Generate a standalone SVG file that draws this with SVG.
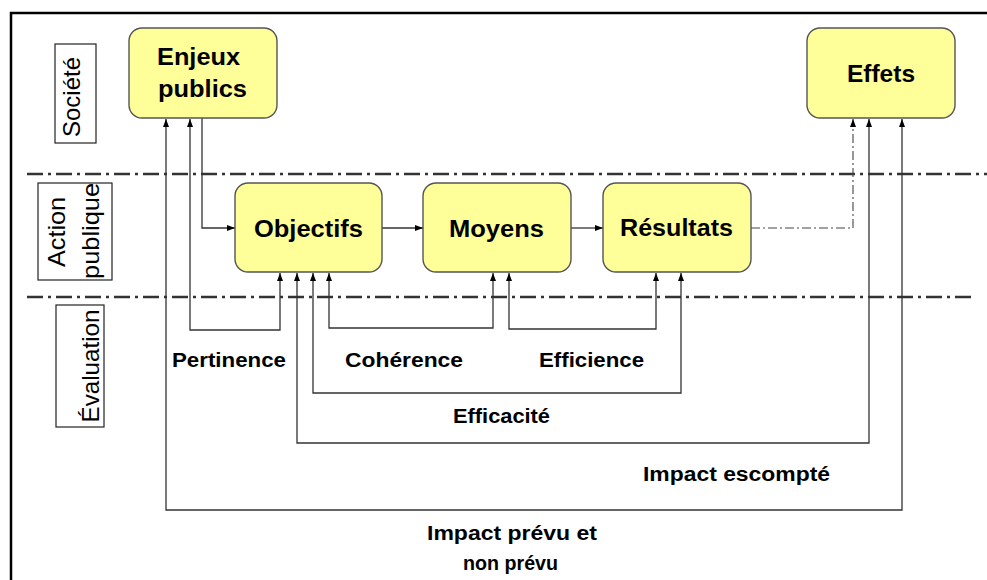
<svg xmlns="http://www.w3.org/2000/svg" width="987" height="580" viewBox="0 0 987 580">
<style>
  .box { fill: #FFFF99; stroke: #555; stroke-width: 1.4; }
  .lbl { fill: none; stroke: #222; stroke-width: 1.2; }
  .nt { font-family: "Liberation Sans", Arial, sans-serif; font-weight: bold; font-size: 23px; fill: #000; text-anchor: middle; }
  .st { font-family: "Liberation Sans", Arial, sans-serif; font-weight: bold; font-size: 20px; fill: #000; text-anchor: middle; }
  .rt { font-family: "Liberation Sans", Arial, sans-serif; font-size: 24px; fill: #000; text-anchor: middle; }
  .sep { fill: none; stroke: #333; stroke-width: 2.5; stroke-dasharray: 16 5 3 5; }
  .con { fill: none; stroke: #333; stroke-width: 1.3; }
  .dd { fill: none; stroke: #444; stroke-width: 1.1; stroke-dasharray: 9 3 2 3; }
</style>
<defs>
  <marker id="ah" viewBox="0 0 8 6" refX="8" refY="3" markerWidth="8" markerHeight="6" orient="auto-start-reverse" markerUnits="userSpaceOnUse">
    <path d="M0,0 L8,3 L0,6 z" fill="#000"/>
  </marker>
</defs>
<rect width="987" height="580" fill="#fff"/>
<g id="frame">
  <path d="M11,580 V13 H987" fill="none" stroke="#000" stroke-width="2.5"/>
</g>
<g id="separators">
  <line class="sep" x1="27" y1="174" x2="987" y2="174"/>
  <line class="sep" x1="27" y1="297" x2="972" y2="297"/>
</g>
<g id="lane-societe">
  <rect class="lbl" x="55" y="44" width="41" height="99"/>
  <text class="rt" transform="translate(80,97) rotate(-90)" textLength="80" lengthAdjust="spacingAndGlyphs">Société</text>
</g>
<g id="lane-action">
  <rect class="lbl" x="38" y="183" width="74" height="97"/>
  <text class="rt" transform="translate(65,232) rotate(-90)" textLength="70" lengthAdjust="spacingAndGlyphs">Action</text>
  <text class="rt" transform="translate(99,231) rotate(-90)" textLength="96" lengthAdjust="spacingAndGlyphs">publique</text>
</g>
<g id="lane-evaluation">
  <rect class="lbl" x="56" y="305" width="48" height="122"/>
  <text class="rt" transform="translate(99,366) rotate(-90)" textLength="113" lengthAdjust="spacingAndGlyphs">Évaluation</text>
</g>
<g id="connectors">
  <path class="con" d="M202,118 V228 H235" marker-end="url(#ah)"/>
  <path class="con" d="M382,228 H423" marker-end="url(#ah)"/>
  <path class="con" d="M571,228 H603" marker-end="url(#ah)"/>
  <path class="dd" d="M751,228 H853 V119" marker-end="url(#ah)"/>
  <path class="con" d="M190,119 V330 H280 V273" marker-start="url(#ah)" marker-end="url(#ah)"/>
  <path class="con" d="M297,273 V443 H869 V119" marker-start="url(#ah)" marker-end="url(#ah)"/>
  <path class="con" d="M313,273 V393 H681 V273" marker-start="url(#ah)" marker-end="url(#ah)"/>
  <path class="con" d="M329,273 V328 H493 V273" marker-start="url(#ah)" marker-end="url(#ah)"/>
  <path class="con" d="M509,273 V329 H656 V273" marker-start="url(#ah)" marker-end="url(#ah)"/>
  <path class="con" d="M166,119 V510 H902 V119" marker-start="url(#ah)" marker-end="url(#ah)"/>
</g>
<g id="enjeux">
  <rect class="box" x="129" y="28" width="148" height="90" rx="13"/>
  <text class="nt" x="198.5" y="65" textLength="83" lengthAdjust="spacingAndGlyphs">Enjeux</text>
  <text class="nt" x="202.5" y="97" textLength="89" lengthAdjust="spacingAndGlyphs">publics</text>
</g>
<g id="effets">
  <rect class="box" x="807" y="28" width="148" height="90" rx="13"/>
  <text class="nt" x="881" y="82" textLength="68" lengthAdjust="spacingAndGlyphs">Effets</text>
</g>
<g id="objectifs">
  <rect class="box" x="235" y="183" width="147" height="89" rx="13"/>
  <text class="nt" x="308.5" y="237" textLength="109" lengthAdjust="spacingAndGlyphs">Objectifs</text>
</g>
<g id="moyens">
  <rect class="box" x="423" y="183" width="148" height="89" rx="13"/>
  <text class="nt" x="496.5" y="237" textLength="95" lengthAdjust="spacingAndGlyphs">Moyens</text>
</g>
<g id="resultats">
  <rect class="box" x="603" y="183" width="148" height="89" rx="13"/>
  <text class="nt" x="676.5" y="236" textLength="113" lengthAdjust="spacingAndGlyphs">Résultats</text>
</g>
<g id="labels">
  <text class="st" x="229" y="367" textLength="114" lengthAdjust="spacingAndGlyphs">Pertinence</text>
  <text class="st" x="404" y="367" textLength="118" lengthAdjust="spacingAndGlyphs">Cohérence</text>
  <text class="st" x="591.5" y="367" textLength="105" lengthAdjust="spacingAndGlyphs">Efficience</text>
  <text class="st" x="501.5" y="423" textLength="97" lengthAdjust="spacingAndGlyphs">Efficacité</text>
  <text class="st" x="736.5" y="481" textLength="187" lengthAdjust="spacingAndGlyphs">Impact escompté</text>
  <text class="st" x="512" y="540" textLength="170" lengthAdjust="spacingAndGlyphs">Impact prévu et</text>
  <text class="st" x="510.5" y="570" textLength="95" lengthAdjust="spacingAndGlyphs">non prévu</text>
</g>
</svg>
